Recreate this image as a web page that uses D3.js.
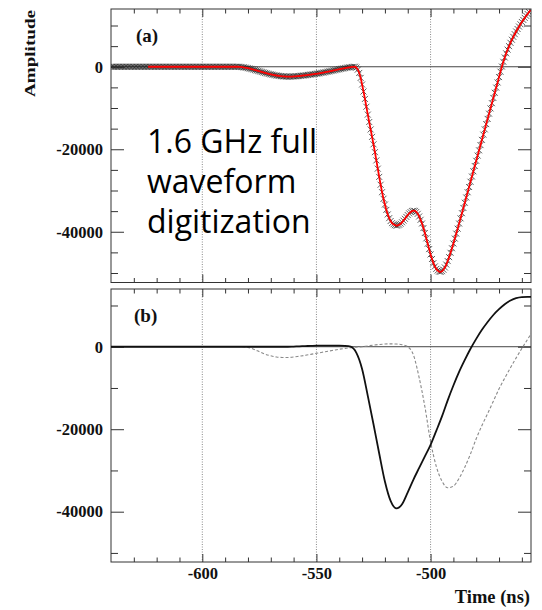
<!DOCTYPE html>
<html>
<head>
<meta charset="utf-8">
<script src="https://cdn.jsdelivr.net/npm/d3@7/dist/d3.min.js"></script>
<style>
  body { margin: 0; background: #fff; }
  svg { display: block; }
</style>
</head>
<body>
<svg id="chart" width="542" height="610"></svg>
<script>
// ---- sampling ----
const tStart = -640;          // ns, first sample
const stepFine = 0.625;       // ns, 1.6 GHz digitizer
const stepCoarse = 2.5;       // ns, component traces
const timeRange = [-640, -456];
const fitStart = -624;        // fit window start (ns)

// ---- tick values ----
const xMajorTicks = [-600, -550, -500];
const xMinorTicks = [-630, -620, -610, -590, -580, -570, -560, -540, -530, -520, -510, -490, -480, -470, -460];
const yMajorTicks = [0, -20000, -40000];
const yMinorTicksA = [10000, 5000, -5000, -10000, -15000, -25000, -30000, -35000, -45000, -50000];
const yMinorTicksB = [10000, -10000, -30000, -50000];
const ampRangeA = [-52300, 14000];
const ampRangeB = [-52200, 14000];

// ---- (a) digitized samples, one per 0.625 ns from -640 ns ----
const samplesA = [
  0, 0, 0, 0, 0, 0, 0, 0,
  0, 0, 0, 0, 0, 0, 0, 0,
  0, 0, 0, 0, 0, 0, 0, 0,
  0, 0, 0, 0, 0, 0, 0, 0,
  0, 0, 0, 0, 0, 0, 0, 0,
  0, 0, 0, 0, 0, 0, 0, 0,
  0, 0, 0, 0, 0, 0, 0, 0,
  0, 0, 0, 0, 0, 0, 0, 0,
  0, 0, 0, 0, 0, 0, 0, 0,
  0, 0, 0, 0, 0, 0, 0, 0,
  0, 0, 0, 0, 0, 0, 0, 0,
  0, 0, -20, -50, -90, -140, -200, -270,
  -340, -420, -510, -600, -690, -790, -890, -990,
  -1090, -1190, -1290, -1390, -1490, -1580, -1670, -1760,
  -1840, -1920, -1990, -2060, -2120, -2180, -2230, -2270,
  -2310, -2340, -2360, -2380, -2390, -2390, -2380, -2370,
  -2350, -2330, -2300, -2270, -2240, -2200, -2160, -2120,
  -2080, -2040, -1990, -1950, -1900, -1850, -1800, -1750,
  -1700, -1640, -1580, -1520, -1460, -1400, -1330, -1260,
  -1190, -1120, -1050, -980, -900, -830, -750, -680,
  -600, -530, -460, -390, -320, -260, -200, -140,
  -90, -50, -20, 0, -200, -700, -1500, -2700,
  -4300, -6000, -7800, -9700, -11600, -13400, -15200, -17000,
  -18800, -20700, -22700, -24700, -26700, -28600, -30400, -32000,
  -33400, -34700, -35800, -36700, -37400, -37900, -38200, -38400,
  -38500, -38450, -38300, -38050, -37700, -37300, -36850, -36400,
  -35950, -35550, -35250, -35000, -34900, -34950, -35200, -35650,
  -36300, -37100, -38000, -39100, -40300, -41600, -42900, -44200,
  -45500, -46600, -47600, -48400, -49000, -49400, -49650, -49700,
  -49550, -49200, -48650, -47950, -47100, -46150, -45100, -44000,
  -42850, -41650, -40450, -39250, -38000, -36750, -35500, -34230,
  -32960, -31690, -30420, -29150, -27880, -26610, -25340, -24070,
  -22800, -21530, -20260, -18990, -17720, -16450, -15180, -13910,
  -12640, -11370, -10100, -8830, -7560, -6300, -5050, -3810,
  -2500, -1200, 50, 1200, 2250, 3250, 4150, 5000,
  5800, 6550, 7250, 7900, 8550, 9150, 9750, 10300,
  10850, 11350, 11850, 12350, 12800, 13250, 13700
];

// ---- (b) components, one per 2.5 ns from -640 ns ----
const solidB = [
  0, 0, 0, 0, 0, 0, 0, 0, 0, 0, 0, 0, 0, 0, 0, 0,
  0, 0, 0, 0, 0, 0, 0, 0, 0, 0, 0, 0, 0, 0, 0, 0,
  50, 100, 150, 200, 250, 250, 250, 250, 250, 200,
  0, -1500, -5400, -11900, -18800, -25900, -32700, -37400, -39200, -38200,
  -35300, -32200, -29400, -26600, -23800, -20400, -16900, -13000, -9400, -6100,
  -3200, -500, 1900, 4100, 6000, 7700, 9100, 10300, 11200, 11800,
  12050, 12100, 12100
];
const dashedB = [
  null, null, null, null, null, null, null, null, null, null, null, null,
  null, null, null, null, null, null, null, null, null, null, null,
  0, -150, -600, -1200, -1800, -2200, -2500, -2600, -2600, -2500,
  -2300, -2100, -1850, -1600, -1350, -1100, -850, -600, -400, -250,
  -100, 0, 200, 400, 550, 650, 700, 650, 500, 0,
  -2000, -7500, -14500, -23000, -29000, -32600, -34200, -33800, -31900, -29200,
  -26000, -22300, -19100, -16200, -13200, -10200, -7600, -5100, -2700, -400,
  1800, 4000
];

const titleLines = ["1.6 GHz full", "waveform", "digitization"];

// ---- layout ----
const svg = d3.select("#chart");
const plotL = 111, plotR = 531;
const panelA = { top: 9, bottom: 282.5 };
const panelB = { top: 289, bottom: 562 };
const serif = "'Liberation Serif', 'Times New Roman', serif";

const x = d3.scaleLinear().domain(timeRange).range([plotL, plotR]);
const yA = d3.scaleLinear().domain(ampRangeA).range([panelA.bottom, panelA.top]);
const yB = d3.scaleLinear().domain(ampRangeB).range([panelB.bottom, panelB.top]);

const fine = samplesA.map((v, i) => ({ t: tStart + i * stepFine, v }));
const coarseSolid = solidB.map((v, i) => ({ t: tStart + i * stepCoarse, v }));
const coarseDashed = dashedB.map((v, i) => ({ t: tStart + i * stepCoarse, v }));

// clip paths for each panel
const defs = svg.append("defs");
[["clipA", panelA], ["clipB", panelB]].forEach(([id, p]) => {
  defs.append("clipPath").attr("id", id).append("rect")
    .attr("x", plotL).attr("y", p.top)
    .attr("width", plotR - plotL).attr("height", p.bottom - p.top);
});

function drawPanel(p, y, yMinor, tag) {
  const g = svg.append("g");
  // dotted verticals at the major time ticks
  g.selectAll("line.grid").data(xMajorTicks).join("line")
    .attr("x1", d => x(d)).attr("x2", d => x(d))
    .attr("y1", p.top).attr("y2", p.bottom)
    .attr("stroke", "#8a8a8a").attr("stroke-width", 1)
    .attr("stroke-dasharray", "1,1.5");
  // zero line
  g.append("line")
    .attr("x1", plotL).attr("x2", plotR)
    .attr("y1", y(0)).attr("y2", y(0))
    .attr("stroke", "#444").attr("stroke-width", 1);

  // axes, ticks pointing inward on all four sides
  const axes = [
    [d3.axisLeft(y), plotL, null, yMinor, yMajorTicks, 7, 13, true],
    [d3.axisRight(y), plotR, null, yMinor, yMajorTicks, 7, 13, false],
    [d3.axisTop(x), null, p.top, xMinorTicks, xMajorTicks, 4.5, 8, false],
    [d3.axisBottom(x), null, p.bottom, xMinorTicks, xMajorTicks, 4.5, 8, tag === "b"]
  ];
  axes.forEach(([axis, ax, ay, minor, major, lenMinor, lenMajor, labelled]) => {
    const tr = ax !== null ? `translate(${ax},0)` : `translate(0,${ay})`;
    const gm = svg.append("g").attr("transform", tr)
      .call(axis.tickValues(minor).tickSize(-lenMinor).tickFormat(""));
    gm.select(".domain").remove();
    gm.selectAll("line").attr("stroke", "#333");
    const gM = svg.append("g").attr("transform", tr)
      .call(axis.tickValues(major).tickSize(-lenMajor)
        .tickPadding(ax !== null ? 8 : 5)
        .tickFormat(labelled ? (d => String(d)) : ""));
    gM.select(".domain").remove();
    gM.selectAll("line").attr("stroke", "#333");
    gM.selectAll("text")
      .attr("font-family", serif).attr("font-weight", "bold")
      .attr("font-size", 16.5).attr("fill", "#111");
  });

  // frame
  svg.append("rect")
    .attr("x", plotL).attr("y", p.top)
    .attr("width", plotR - plotL).attr("height", p.bottom - p.top)
    .attr("fill", "none").attr("stroke", "#333").attr("stroke-width", 1);

  // panel tag
  svg.append("text")
    .attr("x", tag === "a" ? 136 : 134).attr("y", p.top + 33)
    .attr("font-family", serif).attr("font-weight", "bold")
    .attr("font-size", 19).attr("fill", "#111")
    .text(`(${tag})`);
}

drawPanel(panelA, yA, yMinorTicksA, "a");
drawPanel(panelB, yB, yMinorTicksB, "b");

// ---- (a) samples as crosses and fitted curve ----
const gA = svg.append("g").attr("clip-path", "url(#clipA)");
const s = 3;
gA.selectAll("path.mk").data(fine).join("path")
  .attr("d", `M${-s},${-s}L${s},${s}M${-s},${s}L${s},${-s}`)
  .attr("transform", d => `translate(${x(d.t)},${yA(d.v)})`)
  .attr("fill", "none").attr("stroke", "#222")
  .attr("stroke-width", 0.9).attr("stroke-opacity", 0.8);

const fitLine = d3.line().x(d => x(d.t)).y(d => yA(d.v)).curve(d3.curveMonotoneX);
gA.append("path")
  .datum(fine.filter(d => d.t >= fitStart))
  .attr("d", fitLine)
  .attr("fill", "none").attr("stroke", "#ff0000").attr("stroke-width", 1.8);

// ---- (b) components ----
const gB = svg.append("g").attr("clip-path", "url(#clipB)");
const lineB = d3.line().defined(d => d.v !== null)
  .x(d => x(d.t)).y(d => yB(d.v)).curve(d3.curveMonotoneX);
gB.append("path").datum(coarseDashed).attr("d", lineB)
  .attr("fill", "none").attr("stroke", "#8a8a8a")
  .attr("stroke-width", 1.1).attr("stroke-dasharray", "3,2");
gB.append("path").datum(coarseSolid).attr("d", lineB)
  .attr("fill", "none").attr("stroke", "#111").attr("stroke-width", 1.8);

// ---- axis titles ----
svg.append("text")
  .attr("transform", "translate(35,10) rotate(-90)")
  .attr("text-anchor", "end")
  .attr("font-family", serif).attr("font-weight", "bold")
  .attr("font-size", 15).attr("fill", "#111")
  .attr("textLength", 87).attr("lengthAdjust", "spacingAndGlyphs")
  .text("Amplitude");
svg.append("text")
  .attr("x", 530).attr("y", 603)
  .attr("text-anchor", "end")
  .attr("font-family", serif).attr("font-weight", "bold")
  .attr("font-size", 18.5).attr("fill", "#111")
  .text("Time (ns)");

// ---- annotation ----
const note = svg.append("text")
  .attr("font-family", "'Open Sans', 'Noto Sans', sans-serif")
  .attr("font-size", 32).attr("fill", "#000");
titleLines.forEach((line, i) => {
  note.append("tspan").attr("x", 147).attr("y", 153 + i * 40).text(line);
});
</script>
</body>
</html>
